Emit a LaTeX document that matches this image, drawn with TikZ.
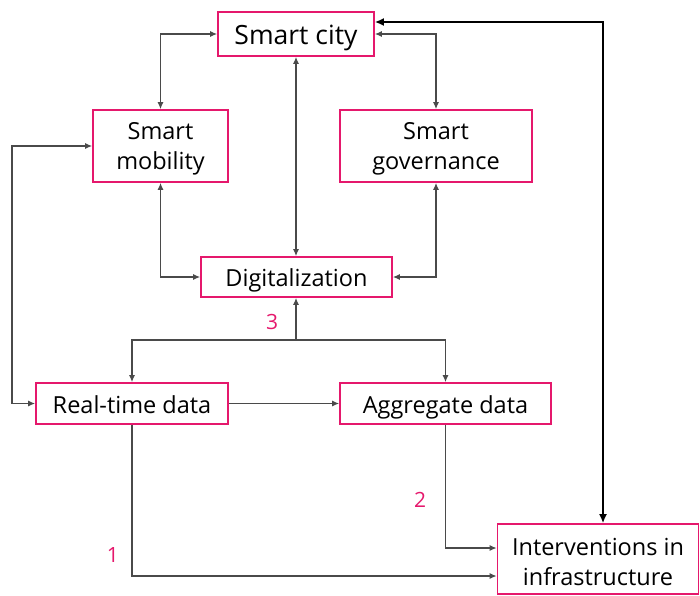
\documentclass[tikz,border=0pt]{standalone}
\usepackage{fontspec}
\setmainfont{Open Sans}
\usetikzlibrary{arrows.meta}
\definecolor{boxpink}{HTML}{E5186C}
\definecolor{lingray}{HTML}{4A4A4A}
\newcommand{\lowerstrut}{\rule{0pt}{23.5pt}}
\tikzset{
  box/.style={draw=boxpink, line width=1.6pt, fill=white, inner sep=0pt, align=center, font=\fontsize{23.5}{30}\selectfont},
  oneline/.style={text height=20pt, text depth=1pt},
  conn/.style={draw=lingray, line width=1.3pt, {Latex[length=7pt,width=6pt]}-{Latex[length=7pt,width=6pt]}},
  oneway/.style={draw=lingray, line width=1.3pt, -{Latex[length=7pt,width=6pt]}},
  thick conn/.style={draw=black, line width=2.8pt, {Latex[length=9pt,width=8pt]}-{Latex[length=9pt,width=8pt]}},
  numlabel/.style={text=boxpink, font=\fontsize{21}{24}\selectfont}
}
\begin{document}
\begin{tikzpicture}[x=1pt,y=-1pt]
\useasboundingbox (0,0) rectangle (700,595);
\node[box, text height=23pt, text depth=2pt, minimum width=156pt, minimum height=44pt, font=\fontsize{26.5}{30}\selectfont] (city) at (296,34) {Smart city};
\node[box, minimum width=135pt, minimum height=72pt] (mob) at (160.5,146) {\lowerstrut Smart\\mobility};
\node[box, minimum width=192pt, minimum height=72pt] (gov) at (436,146) {\lowerstrut Smart\\governance};
\node[box, oneline, minimum width=191pt, minimum height=40pt] (dig) at (296.5,277) {Digitalization};
\node[box, oneline, minimum width=192pt, minimum height=41pt] (rt) at (132,403.5) {Real-time data};
\node[box, oneline, minimum width=211pt, minimum height=41pt] (agg) at (445.5,403.5) {Aggregate data};
\node[box, minimum width=201pt, minimum height=70pt] (int) at (598,559) {\lowerstrut Interventions in\\infrastructure};

\coordinate (tk) at (603,22);
\coordinate (lp) at (12,0);
\coordinate (br) at (296,340);
\coordinate (c1) at (0,576);
\coordinate (c2) at (0,548);

\draw[conn] (city.west) -| (mob.north);
\draw[conn] (city.east) -| (gov.north);
\draw[thick conn] (tk |- int.north) -- (tk) -- (tk -| city.east);
\draw[conn] (city.south) -- (city.south |- dig.north);
\draw[conn] (mob.south) |- (dig.west);
\draw[conn] (gov.south) |- (dig.east);
\draw[conn] (rt.west) -- (rt.west -| lp) -- (lp |- mob.west) -- (mob.west);
\draw[oneway] (br) -- (br |- dig.south);
\draw[conn] (rt.north) |- (br) -| (agg.north);
\draw[oneway] (rt.east) -- (agg.west);
\draw[oneway] (rt.south) |- (c1 -| int.west);
\draw[oneway] (agg.south) |- (c2 -| int.west);

\node[numlabel] (n3) at (272,322) {3};
\node[numlabel] (n2) at (420,500) {2};
\node[numlabel] (n1) at (113,555) {1};
\end{tikzpicture}
\end{document}
